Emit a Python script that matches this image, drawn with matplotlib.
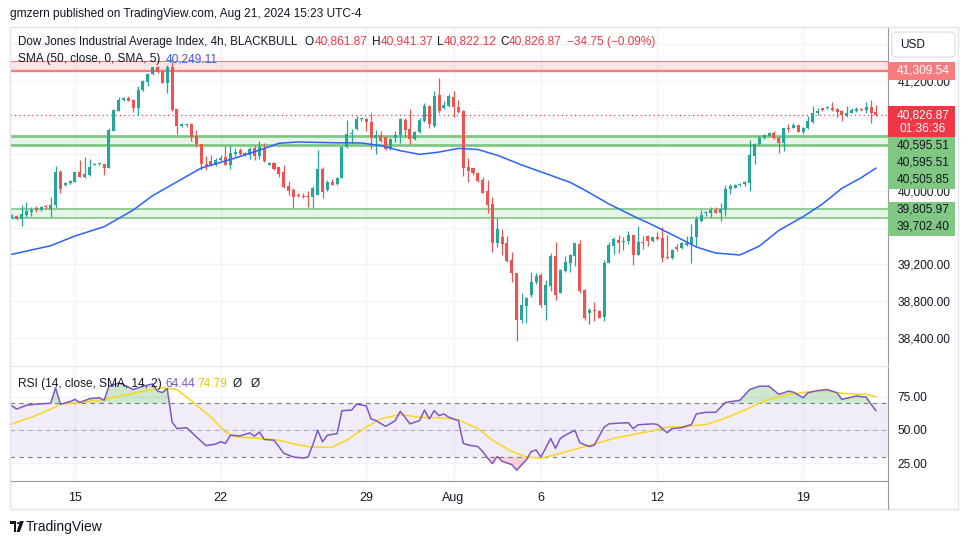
import numpy as np
import matplotlib
matplotlib.use("Agg")
import matplotlib.pyplot as plt
from matplotlib.patches import Rectangle, Circle, Polygon, FancyBboxPatch
from matplotlib.lines import Line2D

W, H = 970, 545
FONT = "Liberation Sans"
DARK = "#131722"
UP = "#26a69a"
DOWN = "#ef5350"
GRID = "#f0f3fa"

# 4h candles, Jul 11 -> Aug 21 2024 (bar index 0..178)
opens = [
    39706, 39728, 39692, 39735, 39771, 39819, 39793, 39837, 39804, 39848,
    40208, 40062, 40084, 40102, 40208, 40150, 40175, 40288, 40291, 40295,
    40255, 40658, 40877, 40993, 41018, 40993, 40909, 41102, 41193, 41276,
    41356, 41313, 41182, 41349, 40891, 40709, 40720, 40727, 40600, 40513,
    40295, 40328, 40284, 40339, 40368, 40284, 40404, 40447, 40418, 40393,
    40466, 40382, 40458, 40284, 40309, 40259, 40211, 40055, 40011, 39957,
    39946, 39939, 39931, 39957, 40240, 40011, 40095, 40073, 40146, 40477,
    40618, 40677, 40782, 40786, 40757, 40582, 40611, 40586, 40458, 40575,
    40611, 40775, 40673, 40564, 40644, 40767, 40927, 40713, 41047, 40906,
    40930, 41030, 40920, 40873, 40259, 40248, 40201, 40121, 40004, 39859,
    39430, 39503, 39430, 39248, 39103, 38594, 38750, 38866, 39012, 39085,
    38757, 38965, 39292, 38892, 39132, 39212, 39296, 39423, 38921, 38674,
    38703, 38692, 38630, 39219, 39401, 39466, 39448, 39459, 39521, 39303,
    39448, 39506, 39455, 39503, 39492, 39285, 39266, 39387, 39375, 39412,
    39423, 39503, 39677, 39757, 39757, 39794, 39765, 39794, 40019, 40037,
    40070, 40073, 40091, 40382, 40510, 40575, 40604, 40637, 40582, 40520,
    40691, 40691, 40720, 40648, 40684, 40757, 40847, 40902, 40909, 40902,
    40891, 40873, 40822, 40855, 40877, 40898, 40884, 40920, 40861.87,
]
highs = [
    39745, 39735, 39844, 39884, 39830, 39840, 39833, 39851, 39931, 40273,
    40230, 40102, 40120, 40211, 40338, 40367, 40349, 40302, 40302, 40298,
    40684, 40891, 41022, 41029, 41036, 41000, 41145, 41211, 41284, 41356,
    41363, 41320, 41374, 41411, 40891, 40746, 40731, 40738, 40665, 40513,
    40386, 40393, 40357, 40393, 40491, 40491, 40466, 40466, 40426, 40477,
    40502, 40546, 40520, 40320, 40320, 40266, 40284, 40110, 40030, 39982,
    39982, 40004, 40055, 40448, 40266, 40120, 40131, 40150, 40491, 40775,
    40673, 40818, 40793, 40800, 40855, 40666, 40655, 40593, 40582, 40658,
    40793, 40793, 40891, 40658, 40793, 40964, 40938, 41091, 41229, 40982,
    41060, 41090, 40993, 40880, 40357, 40255, 40212, 40150, 40121, 39932,
    39710, 39586, 39510, 39332, 39110, 38885, 38848, 39114, 39103, 39103,
    39030, 39321, 39448, 39150, 39292, 39310, 39437, 39466, 38928, 38728,
    38787, 38700, 39248, 39448, 39503, 39521, 39503, 39568, 39521, 39619,
    39510, 39521, 39503, 39554, 39604, 39517, 39372, 39419, 39448, 39510,
    39641, 39728, 39794, 39783, 39823, 39823, 39866, 40066, 40077, 40077,
    40091, 40113, 40557, 40528, 40611, 40622, 40648, 40658, 40600, 40684,
    40731, 40738, 40720, 40702, 40818, 40927, 40909, 40902, 40931, 40975,
    40909, 40884, 40927, 40902, 40913, 40909, 40971, 40993, 40941.37,
]
lows = [
    39695, 39688, 39622, 39720, 39728, 39771, 39786, 39800, 39720, 39811,
    39975, 40055, 40077, 40095, 40150, 40139, 40164, 40280, 40284, 40175,
    40248, 40651, 40873, 40986, 40982, 40865, 40829, 41095, 41149, 41269,
    41284, 41175, 41065, 40873, 40622, 40702, 40702, 40549, 40477, 40229,
    40229, 40273, 40277, 40328, 40280, 40240, 40382, 40393, 40382, 40346,
    40339, 40346, 40320, 40284, 40229, 40150, 40030, 39957, 39819, 39931,
    39920, 39830, 39819, 39957, 39928, 40004, 40066, 40066, 40146, 40466,
    40520, 40666, 40767, 40658, 40458, 40404, 40538, 40447, 40447, 40538,
    40527, 40586, 40513, 40557, 40637, 40757, 40684, 40702, 40847, 40895,
    40920, 40804, 40855, 40168, 40102, 40175, 40102, 39975, 39764, 39339,
    39394, 39303, 39230, 39012, 38368, 38557, 38557, 38848, 38986, 38739,
    38594, 38914, 38812, 38885, 39121, 39121, 39183, 38892, 38594, 38547,
    38587, 38612, 38587, 39212, 39314, 39328, 39357, 39423, 39194, 39303,
    39365, 39401, 39448, 39466, 39230, 39256, 39259, 39350, 39368, 39401,
    39219, 39386, 39666, 39728, 39721, 39757, 39677, 39728, 39964, 40030,
    40055, 40055, 40004, 40295, 40502, 40568, 40597, 40568, 40418, 40440,
    40648, 40684, 40644, 40622, 40673, 40738, 40829, 40877, 40895, 40877,
    40811, 40767, 40811, 40847, 40866, 40873, 40847, 40746, 40822.12,
]
closes = [
    39735, 39692, 39750, 39786, 39793, 39790, 39826, 39822, 39848, 40211,
    40019, 40091, 40109, 40208, 40157, 40186, 40266, 40291, 40295, 40255,
    40669, 40884, 40993, 41018, 40982, 40909, 41102, 41204, 41276, 41349,
    41294, 41182, 41349, 40884, 40713, 40731, 40727, 40593, 40509, 40295,
    40273, 40284, 40339, 40364, 40284, 40418, 40426, 40404, 40393, 40455,
    40382, 40477, 40328, 40309, 40240, 40186, 40041, 40000, 39939, 39946,
    39931, 39931, 40037, 40240, 39993, 40095, 40066, 40139, 40477, 40622,
    40622, 40782, 40786, 40757, 40582, 40611, 40546, 40458, 40571, 40611,
    40786, 40666, 40568, 40644, 40775, 40927, 40727, 41040, 40877, 40938,
    41040, 40913, 40866, 40255, 40222, 40193, 40113, 39983, 39848, 39430,
    39586, 39423, 39241, 39103, 38594, 38757, 38830, 39012, 39078, 38757,
    38976, 39295, 38866, 39139, 39223, 39303, 39430, 38914, 38612, 38703,
    38692, 38619, 39219, 39412, 39477, 39437, 39455, 39521, 39303, 39448,
    39437, 39459, 39503, 39477, 39274, 39274, 39357, 39372, 39430, 39430,
    39503, 39692, 39739, 39764, 39794, 39765, 39805, 40019, 40055, 40066,
    40077, 40102, 40393, 40513, 40582, 40611, 40637, 40575, 40528, 40684,
    40680, 40720, 40648, 40684, 40764, 40855, 40877, 40884, 40916, 40884,
    40866, 40829, 40855, 40884, 40895, 40884, 40920, 40855, 40826.87,
]

# SMA (50, close, 0, SMA, 5) read at selected bars
sma_bars = [0, 8, 13, 19, 25, 29, 32, 39, 46, 52, 55, 59, 66, 72, 76, 80, 84,
            88, 92, 96, 100, 105, 110, 115, 118, 123, 128, 132, 137, 141, 145,
            150, 154, 158, 163, 167, 171, 175, 178]
sma_vals = [39310, 39404, 39510, 39611, 39793, 39950, 40040, 40251, 40360,
            40464, 40521, 40535, 40527, 40524, 40495, 40440, 40400, 40425,
            40465, 40453, 40390, 40285, 40190, 40095, 40011, 39859, 39728,
            39630, 39499, 39390, 39324, 39303, 39400, 39570, 39720, 39859,
            40030, 40146, 40249.11]

# RSI (14) and its SMA (14)
rsi_bars = [0, 1, 3, 5, 8, 9, 10, 12, 13, 14, 16, 18, 19, 20, 22, 23, 25, 27,
            29, 30, 31, 32, 33, 34, 36, 38, 40, 42, 43, 44, 45, 47, 49, 50, 51,
            52, 54, 56, 58, 60, 61, 62, 63, 64, 65, 67, 68, 70, 71, 73, 74, 75,
            77, 79, 80, 81, 82, 84, 85, 86, 87, 88, 89, 90, 92, 93, 94, 96, 97,
            98, 99, 100, 101, 103, 104, 106, 107, 108, 109, 111, 112, 113, 114,
            116, 117, 119, 120, 122, 123, 125, 127, 128, 129, 132, 133, 135,
            136, 138, 140, 141, 143, 145, 147, 149, 150, 152, 154, 156, 158,
            160, 161, 163, 164, 166, 168, 170, 171, 174, 176, 177, 178]
rsi_vals = [68, 65.6, 68.5, 69.3, 70, 81.5, 69.3, 71.2, 72.9, 70.5, 73.4, 74.1,
            72.2, 82.7, 85.1, 83.9, 80.2, 82.7, 84.4, 79, 78, 81, 56, 51, 51.7,
            44.9, 38.3, 39.5, 41.2, 40, 46.1, 45.6, 47.8, 45.4, 48.5, 42.9,
            42.4, 32.7, 29.8, 29, 29.8, 38.8, 49.8, 41.2, 46.1, 47.3, 64.4,
            64.9, 69.3, 68, 58.3, 57, 52.7, 57, 63.9, 59.5, 54.6, 57, 64.9,
            58.3, 64.4, 60.7, 62, 59.5, 57, 40, 38.8, 37.6, 33.9, 29, 24.9,
            30.2, 26.6, 24.1, 20, 27.8, 33.9, 35.1, 29.8, 43.7, 36.3, 43.7,
            46.1, 49.8, 40.5, 37.6, 38.8, 52, 54.6, 55.1, 55.4, 51, 53.9, 54.6,
            54.1, 48, 51, 51.7, 54.1, 62, 63.2, 63.2, 70.5, 71.7, 72.2, 80.2,
            82.7, 82.7, 76.6, 79, 78.3, 74.1, 77.8, 79.5, 80.2, 77.8, 72.9,
            75.4, 74.6, 69.3, 64.44]
rsi_ma_bars = [0, 4, 8, 10, 14, 18, 23, 28, 31, 34, 37, 41, 44, 46, 51, 55, 59,
               62, 66, 69, 73, 76, 80, 84, 89, 92, 96, 99, 103, 106, 109, 112,
               116, 120, 124, 129, 132, 135, 139, 143, 146, 150, 155, 160, 164,
               168, 172, 176, 178]
rsi_ma_vals = [54.6, 59.5, 65.6, 69.3, 70.5, 72.2, 76.1, 79.5, 81.5, 80.2, 71.7,
               59.5, 48.5, 44.9, 43.7, 42.4, 38.8, 37.1, 37.1, 42.4, 52.2, 58.3,
               61.5, 59.5, 59, 57.6, 51, 42.4, 33.9, 29.8, 29, 31.5, 35.6, 39.5,
               43.7, 47.3, 49.3, 52.2, 52.7, 54.1, 57.6, 63.2, 71.7, 76.6, 78.5,
               79, 77, 76.6, 74.79]

date_bars = [13, 43, 73, 91, 109, 133, 163]
date_labels = ["15", "22", "29", "Aug", "6", "12", "19"]
price_ticks = list(range(38400, 41800, 400))
price_labels = {41200, 40000, 39200, 38800, 38400}  # the ones not hidden by tags

red_zone = (41309.54, 41423)
green_zone_1 = (40505.85, 40595.51)
green_zone_2 = (39702.40, 39805.97)
last_price = 40826.87


def fx(x):
    return x / W


def fy(y):
    return 1 - y / H


def ftext(x, y, s, **kw):
    kw.setdefault("fontsize", 8.6)
    kw.setdefault("color", DARK)
    kw.setdefault("va", "center")
    kw.setdefault("family", FONT)
    return fig.text(fx(x), fy(y), s, **kw)


def fbox(x0, y0, x1, y1, color, z=5):
    fig.add_artist(Rectangle((fx(x0), fy(y1)), (x1 - x0) / W, (y1 - y0) / H,
                             transform=fig.transFigure, facecolor=color,
                             edgecolor="none", zorder=z))


plt.rcParams["font.family"] = [FONT, "DejaVu Sans"]
fig = plt.figure(figsize=(W / 100, H / 100), dpi=100)
fig.patch.set_facecolor("white")

ax = fig.add_axes([fx(10), fy(366), (888 - 10) / W, (366 - 27) / H])
ax2 = fig.add_axes([fx(10), fy(481), (888 - 10) / W, (481 - 366) / H], sharex=ax)

# ---- price pane ----
o, h, l, c = (np.array(v, dtype=float) for v in (opens, highs, lows, closes))
x = np.arange(len(c))
cols = np.where(c >= o, UP, DOWN)

ax.axhspan(*red_zone, color="#f23645", alpha=0.13, lw=0, zorder=1)
ax.axhline(red_zone[1], color="#f77c80", lw=0.8, zorder=1)
ax.axhline(red_zone[0], color="#f77c80", lw=1.7, zorder=1)
for lo, hi, lw in ((*green_zone_1, 2.0), (*green_zone_2, 1.2)):
    ax.axhspan(lo, hi, color="#4caf50", alpha=0.13, lw=0, zorder=1)
    ax.axhline(lo, color="#81c784", lw=lw, zorder=1)
    ax.axhline(hi, color="#81c784", lw=lw, zorder=1)
ax.axhline(last_price, color="#f23645", lw=0.9, ls=(0, (1, 2.5)), zorder=1)

ax.vlines(x, l, h, colors=cols, lw=0.9, zorder=3)
ax.bar(x, np.maximum(np.abs(c - o), 10), bottom=np.minimum(o, c), width=0.62,
       color=cols, lw=0, zorder=3)
ax.plot(sma_bars, sma_vals, color="#2962ff", lw=1.1, zorder=4)

ax.set_yticks(price_ticks)
ax.set_yticklabels([f"{p:,.2f}" if p in price_labels else "" for p in price_ticks])
ax.set_xticks(date_bars)
ax.set_xlim(-0.39, 180.5)
ax.set_ylim(38092, 41789)
ax.yaxis.tick_right()
ax.tick_params(axis="y", length=0, pad=7, labelsize=8.6, labelcolor=DARK)
ax.tick_params(axis="x", length=0, labelbottom=False)
ax.grid(True, color=GRID, lw=1)
ax.set_axisbelow(True)
for s in ("top", "left", "bottom"):
    ax.spines[s].set_visible(False)
ax.spines["right"].set_color("#9598a1")

# ---- RSI pane ----
rx = np.array(rsi_bars, dtype=float)
ry = np.array(rsi_vals, dtype=float)
ax2.axhspan(30, 70, color="#7e57c2", alpha=0.1, lw=0)
ax2.fill_between(rx, 70, ry, where=ry > 70, interpolate=True,
                 color="#4caf50", alpha=0.28, lw=0)
ax2.fill_between(rx, 30, ry, where=ry < 30, interpolate=True,
                 color="#f23645", alpha=0.22, lw=0)
ax2.axhline(70, color="#787b86", lw=0.8, ls=(0, (4, 4)))
ax2.axhline(50, color="#787b86", lw=0.8, ls=(0, (4, 4)), alpha=0.5)
ax2.axhline(30, color="#787b86", lw=0.8, ls=(0, (4, 4)))
ax2.plot(rsi_ma_bars, rsi_ma_vals, color="#f9d71c", lw=1.1)
ax2.plot(rx, ry, color="#7e57c2", lw=1.1)

ax2.set_yticks([25, 50, 75])
ax2.set_yticklabels(["25.00", "50.00", "75.00"])
ax2.set_ylim(11.9, 97.8)
ax2.yaxis.tick_right()
ax2.tick_params(axis="y", length=0, pad=7, labelsize=8.6, labelcolor=DARK)
ax2.set_xticks(date_bars)
ax2.set_xticklabels(date_labels)
ax2.set_xlim(-0.39, 180.5)
ax2.tick_params(axis="x", length=0, pad=8, labelsize=9, labelcolor=DARK)
ax2.grid(True, color=GRID, lw=1)
ax2.set_axisbelow(True)
ax2.spines["left"].set_visible(False)
ax2.spines["top"].set_color("#e0e3eb")
ax2.spines["right"].set_color("#9598a1")
ax2.spines["bottom"].set_color("#9598a1")

# ---- frame ----
fig.add_artist(Rectangle((fx(10), fy(509)), (958 - 10) / W, (509 - 27) / H,
                         transform=fig.transFigure, fill=False,
                         edgecolor="#e0e3eb", lw=1, zorder=2))
fig.add_artist(Line2D([fx(888), fx(888)], [fy(481), fy(509)],
                      transform=fig.transFigure, color="#9598a1", lw=0.8))

# ---- right scale tags ----
fig.add_artist(FancyBboxPatch((fx(892), fy(57)), (955 - 892) / W, (57 - 32) / H,
                              boxstyle="round,pad=0,rounding_size=0.006",
                              transform=fig.transFigure, facecolor="white",
                              edgecolor="#e0e3eb", lw=1, zorder=5))
ftext(900, 44.5, "USD", zorder=6)

fbox(888.5, 61.5, 955, 79.5, "#f77c80")
ftext(923, 70.7, "41,309.54", ha="center", color="white", zorder=6)
fbox(888.5, 106, 955, 136.5, "#f23645")
ftext(923, 115, "40,826.87", ha="center", color="white", zorder=6)
ftext(923, 129, "01:36:36", ha="center", color="white", zorder=6)
fbox(888.5, 136.5, 955, 188.5, "#81c784")
for yy, s in ((146, "40,595.51"), (162.7, "40,595.51"), (179, "40,505.85")):
    ftext(923, yy, s, ha="center", zorder=6)
fbox(888.5, 201.5, 955, 235.5, "#81c784")
for yy, s in ((210, "39,805.97"), (226.7, "39,702.40")):
    ftext(923, yy, s, ha="center", zorder=6)

# ---- legends / header ----
RED = "#f23645"
ftext(10, 14, "gmzern published on TradingView.com, Aug 21, 2024 15:23 UTC-4")
ftext(18, 42, "Dow Jones Industrial Average Index, 4h, BLACKBULL", fontsize=8.4)
for xx, k, v in ((305, "O", "40,861.87"), (372, "H", "40,941.37"),
                 (437, "L", "40,822.12"), (500, "C", "40,826.87")):
    ftext(xx, 42, k)
    ftext(xx + {"O": 9.3, "H": 8.6, "L": 6.6, "C": 8.6}[k], 42, v, color=RED)
ftext(567, 42, "\u221234.75 (\u22120.09%)", color=RED)
ftext(18, 59, "SMA (50, close, 0, SMA, 5)")
ftext(166, 59, "40,249.11", color="#2962ff")
ftext(18, 384, "RSI (14, close, SMA, 14, 2)")
ftext(165, 384, "64.44", color="#7e57c2")
ftext(197, 384, "74.79", color="#f5c400")
ftext(233, 384, "\u00d8")
ftext(251, 384, "\u00d8")

# ---- TradingView logo ----
for patch in (
    Polygon([(fx(10), fy(521)), (fx(16.5), fy(521)), (fx(16.5), fy(532)),
             (fx(13.5), fy(532)), (fx(13.5), fy(524)), (fx(10), fy(524))],
            closed=True),
    Circle((fx(18.3), fy(523)), 1.6 / W),
    Polygon([(fx(20), fy(521)), (fx(23.8), fy(521)), (fx(19.8), fy(532)),
             (fx(16.6), fy(532))], closed=True),
):
    patch.set_transform(fig.transFigure)
    patch.set_facecolor(DARK)
    patch.set_edgecolor("none")
    fig.add_artist(patch)
ftext(26, 527, "TradingView", fontsize=10)

fig.savefig("out.png", dpi=100, facecolor="white")
